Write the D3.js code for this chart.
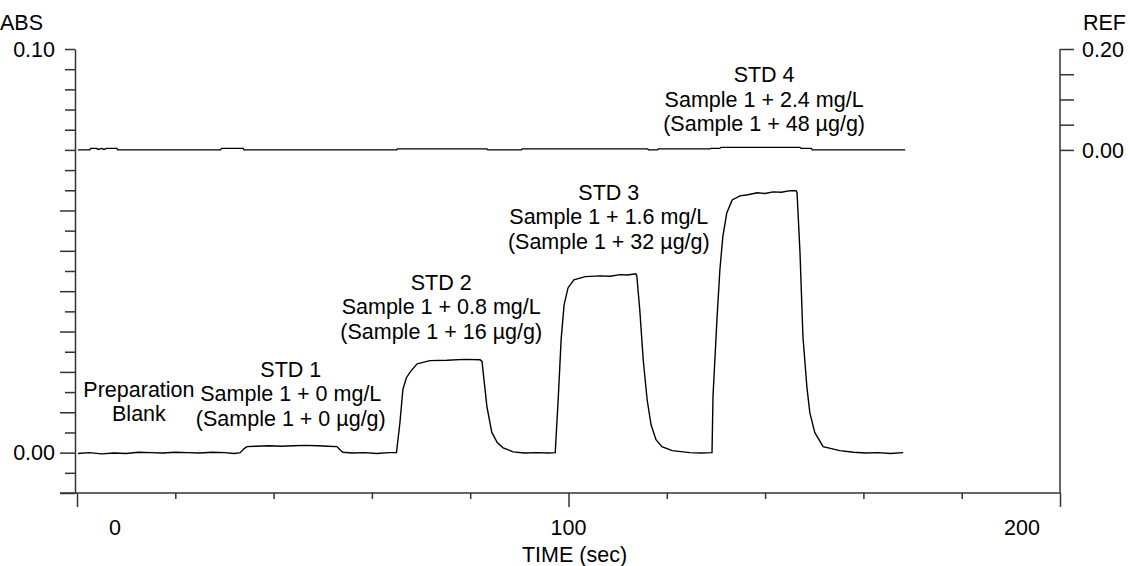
<!DOCTYPE html>
<html>
<head>
<meta charset="utf-8">
<script src="https://cdn.jsdelivr.net/npm/d3@7"></script>
<style>
  body { margin: 0; background: #fff; }
  text { font-family: "Liberation Sans", Arial, sans-serif; font-size: 21.5px; fill: #000; }
</style>
</head>
<body>
<div id="graph"></div>
<script>
// ABS trace: time (sec) and absorbance
var absTime = [0.2, 2.5, 5.0, 7.5, 10.0, 12.5, 15.0, 17.5, 20.0, 22.5, 25.0, 27.5, 30.0, 32.0, 33.2,
  34.0, 34.6, 36.5, 39.0, 41.5, 44.0, 46.5, 49.0, 51.0, 52.9, 53.5, 54.1, 56.0, 58.5, 61.0, 63.5, 65.0,
  65.7, 66.3, 67.0, 67.8, 69.2, 71.8, 75.3, 78.9, 82.0, 82.4, 83.4, 84.4, 85.5, 86.7, 88.7, 91.0, 93.5, 96.0, 97.3,
  97.9, 98.5, 99.1, 99.9, 101.1, 103.4, 106.4, 108.5, 110.5, 112.0, 113.7, 113.9, 114.5, 115.2, 116.0, 116.8,
  117.8, 119.0, 121.1, 124.7, 127.0, 129.2,
  129.4, 130.2, 130.8, 131.4, 132.2, 133.3, 134.9, 136.5, 138.4, 140.0, 141.6, 143.3, 145.1, 146.3, 146.5,
  147.1, 147.7, 148.5, 149.1, 150.1, 151.8, 155.2, 158.0, 160.5, 163.0, 165.5, 168.1];
var absValue = [-0.0002, 0.0000, -0.0003, -0.0001, -0.0002, 0.0001, 0.0000, -0.0001, 0.0001, 0.0000, -0.0001, 0.0001, 0.0000, -0.0002, 0.0000,
  0.0010, 0.0015, 0.0016, 0.0017, 0.0016, 0.0017, 0.0018, 0.0017, 0.0016, 0.0015, 0.0007, 0.0001, -0.0001, 0.0000, -0.0002, 0.0000, 0.0000,
  0.0074, 0.0156, 0.0185, 0.0200, 0.0220, 0.0228, 0.0229, 0.0231, 0.0230, 0.0226, 0.0114, 0.0050, 0.0025, 0.0012, 0.0002, -0.0001, 0.0000, -0.0001, 0.0000,
  0.0131, 0.0280, 0.0366, 0.0408, 0.0428, 0.0436, 0.0438, 0.0437, 0.0441, 0.0440, 0.0443, 0.0438, 0.0354, 0.0230, 0.0131, 0.0069,
  0.0032, 0.0015, 0.0005, 0.0000, -0.0001, 0.0000,
  0.0139, 0.0329, 0.0453, 0.0535, 0.0594, 0.0626, 0.0636, 0.0639, 0.0644, 0.0642, 0.0646, 0.0645, 0.0649, 0.0649, 0.0644,
  0.0495, 0.0287, 0.0163, 0.0099, 0.0050, 0.0015, 0.0005, 0.0001, -0.0001, 0.0000, -0.0002, 0.0000];

// REF trace
var refTime = [0.2, 2.6, 2.8, 4.0, 4.3, 5.0, 5.5, 6.0, 8.1, 8.3, 29.2, 29.4, 33.8, 34.0, 65.0, 65.2, 83.4, 83.6,
  90.4, 90.6, 116.1, 116.3, 118.1, 118.3, 128.8, 129.0, 130.8, 131.0, 147.1, 147.3, 149.4, 149.6, 168.5];
var refValue = [0, 0, 0.003, 0.003, 0.001, 0.003, 0.001, 0.003, 0.003, 0, 0, 0.003, 0.003, 0, 0, 0.002, 0.002, 0,
  0, 0.002, 0.002, 0, 0, 0.002, 0.002, 0.003, 0.003, 0.005, 0.005, 0.003, 0.003, 0, 0];

// tick labels
var timeLabels = [0, 100, 200];
var absLabels = [0.00, 0.10];
var refLabels = [0.00, 0.20];

// peak annotations
var peakText = [
  ["Preparation", "Blank"],
  ["STD 1", "Sample 1 + 0 mg/L", "(Sample 1 + 0 µg/g)"],
  ["STD 2", "Sample 1 + 0.8 mg/L", "(Sample 1 + 16 µg/g)"],
  ["STD 3", "Sample 1 + 1.6 mg/L", "(Sample 1 + 32 µg/g)"],
  ["STD 4", "Sample 1 + 2.4 mg/L", "(Sample 1 + 48 µg/g)"]
];

var W = 1130, H = 566;

var svg = d3.select("#graph")
  .append("svg")
    .attr("width", W)
    .attr("height", H);

// scales
var x = d3.scaleLinear().domain([0, 200]).range([77, 1060]);
var xLab = d3.scaleLinear().domain([0, 200]).range([115, 1022]);
var y = d3.scaleLinear().domain([-0.01, 0.10]).range([493, 49]);
var yRef = d3.scaleLinear().domain([0, 0.20]).range([y(0.075), y(0.10)]);

var axisColor = "#333";

// Add X axis
var xTicks = d3.range(0, 201, 20);
var gx = svg.append("g")
  .attr("transform", "translate(0," + y(-0.01) + ")")
  .call(d3.axisBottom(x).tickValues(xTicks).tickSize(6).tickSizeOuter(0).tickFormat(""));
gx.select(".domain").remove();
gx.selectAll(".tick line")
  .attr("y2", function(d) { return d % 100 == 0 ? 14 : 6; })
  .attr("stroke", axisColor).attr("stroke-width", 1.5);
gx.append("line")
  .attr("x1", x(0) - 17).attr("x2", x(200))
  .attr("stroke", axisColor).attr("stroke-width", 1.5);

svg.selectAll(".xlab")
  .data(timeLabels)
  .enter().append("text")
    .attr("x", function(d) { return xLab(d); })
    .attr("y", 535)
    .attr("text-anchor", "middle")
    .text(function(d) { return d; });

svg.append("text")
  .attr("x", xLab(100) + 6)
  .attr("y", 562)
  .attr("text-anchor", "middle")
  .text("TIME (sec)");

// Add ABS axis
var yTicks = d3.range(-2, 21).map(function(i) { return i * 0.005; });
var gy = svg.append("g")
  .attr("transform", "translate(75,0)")
  .call(d3.axisLeft(y).tickValues(yTicks).tickSize(10).tickSizeOuter(0).tickFormat(""));
gy.select(".domain").attr("stroke", axisColor).attr("stroke-width", 1.5);
gy.selectAll(".tick line")
  .attr("x2", function(d) {
    var k = Math.round(d / 0.005);
    return (k % 2 == 0 && d < 0.065) ? -15 : -10;
  })
  .attr("stroke", axisColor).attr("stroke-width", 1.5);

svg.selectAll(".ylab")
  .data(absLabels)
  .enter().append("text")
    .attr("x", 55)
    .attr("y", function(d) { return y(d); })
    .attr("dy", "0.36em")
    .attr("text-anchor", "end")
    .text(function(d) { return d.toFixed(2); });

svg.append("text").attr("x", 0).attr("y", 30).text("ABS");

// Add REF axis
var gr = svg.append("g")
  .attr("transform", "translate(" + x(200) + ",0)")
  .call(d3.axisRight(yRef).tickValues(d3.range(0, 5).map(function(i) { return i * 0.05; }))
    .tickSize(14).tickSizeOuter(0).tickFormat(""));
gr.select(".domain").remove();
gr.selectAll(".tick line").attr("stroke", axisColor).attr("stroke-width", 1.5);
gr.append("line")
  .attr("y1", y(-0.01)).attr("y2", y(0.10))
  .attr("stroke", axisColor).attr("stroke-width", 1.5);

svg.selectAll(".rlab")
  .data(refLabels)
  .enter().append("text")
    .attr("x", x(200) + 22)
    .attr("y", function(d) { return yRef(d); })
    .attr("dy", "0.36em")
    .text(function(d) { return d.toFixed(2); });

svg.append("text").attr("x", 1083).attr("y", 30).text("REF");

// Add the traces
var absData = absTime.map(function(t, i) { return { t: t, v: absValue[i] }; });
var refData = refTime.map(function(t, i) { return { t: t, v: refValue[i] }; });

svg.append("path")
  .datum(absData)
  .attr("fill", "none")
  .attr("stroke", "#000")
  .attr("stroke-width", 1.4)
  .attr("d", d3.line()
    .x(function(d) { return x(d.t); })
    .y(function(d) { return y(d.v); }));

svg.append("path")
  .datum(refData)
  .attr("fill", "none")
  .attr("stroke", "#000")
  .attr("stroke-width", 1.4)
  .attr("d", d3.line()
    .x(function(d) { return x(d.t); })
    .y(function(d) { return yRef(d.v); }));

// Annotations (centre time, ABS level of first baseline)
var annAt = [[12.6, 0.0139], [43.5, 0.0188], [74.1, 0.0403], [108.2, 0.0626], [139.8, 0.0918]];
peakText.forEach(function(lines, i) {
  var t = svg.append("text")
    .attr("text-anchor", "middle")
    .attr("y", y(annAt[i][1]));
  lines.forEach(function(s, j) {
    t.append("tspan")
      .attr("x", x(annAt[i][0]))
      .attr("dy", j == 0 ? 0 : 24.5)
      .text(s);
  });
});
</script>
</body>
</html>
